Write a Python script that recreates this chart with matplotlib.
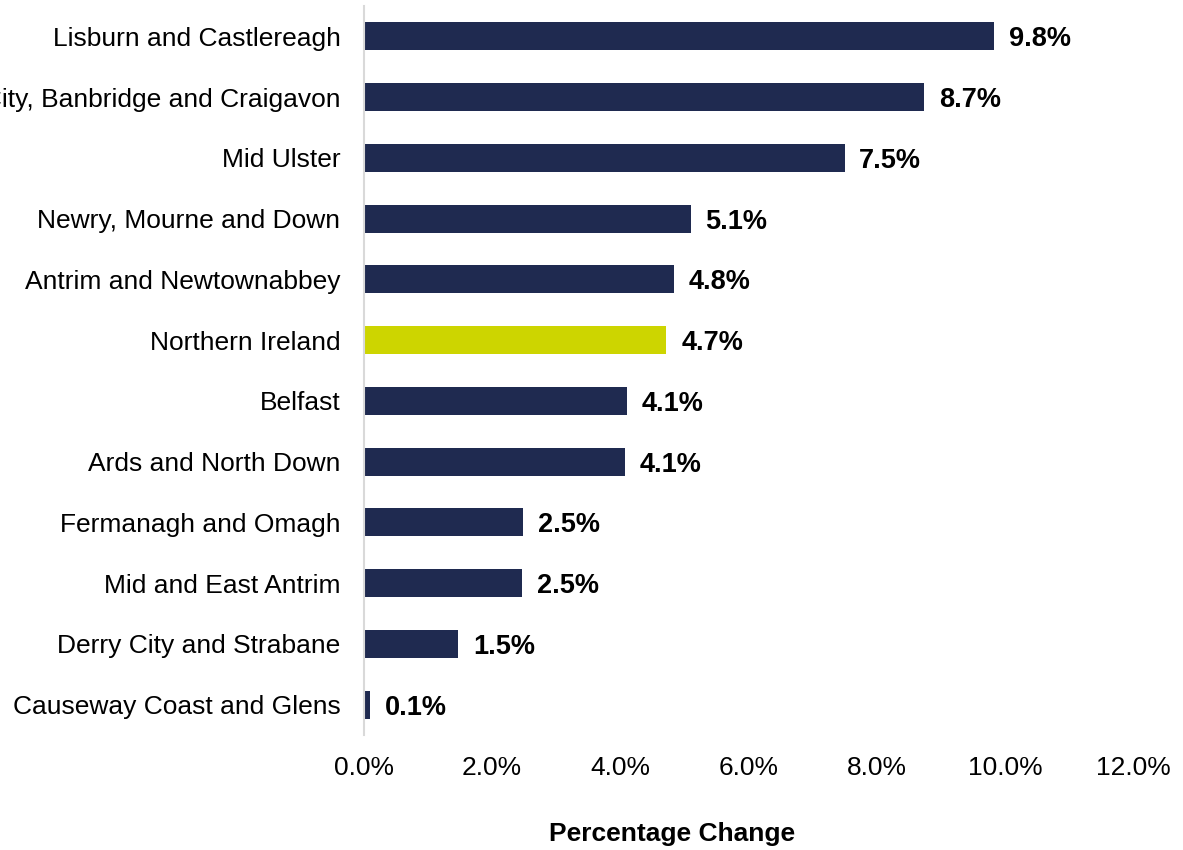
import matplotlib.pyplot as plt
import numpy as np

plt.rcParams['font.family'] = ['Liberation Sans', 'DejaVu Sans']

areas = ['Lisburn and Castlereagh', 'Armagh City, Banbridge and Craigavon', 'Mid Ulster',
         'Newry, Mourne and Down', 'Antrim and Newtownabbey', 'Northern Ireland', 'Belfast',
         'Ards and North Down', 'Fermanagh and Omagh', 'Mid and East Antrim',
         'Derry City and Strabane', 'Causeway Coast and Glens']
change = [9.83, 8.74, 7.5, 5.1, 4.84, 4.72, 4.1, 4.07, 2.48, 2.47, 1.47, 0.1]
labels = ['9.8%', '8.7%', '7.5%', '5.1%', '4.8%', '4.7%', '4.1%', '4.1%', '2.5%', '2.5%', '1.5%', '0.1%']
ticks = [0, 2, 4, 6, 8, 10, 12]

navy = '#1F2A50'
lime = '#CDD500'
colors = [lime if a == 'Northern Ireland' else navy for a in areas]

fig = plt.figure(figsize=(11.83, 8.5), dpi=100)
ax = fig.add_axes([364 / 1183, 1 - 735 / 850, (1133 - 364) / 1183, (735 - 6) / 850])

y = np.arange(len(areas))
ax.barh(y, change, height=0.46, color=colors)
ax.set_ylim(len(areas) - 0.5, -0.5)
ax.set_xlim(0, 12)

ax.set_yticks(y)
ax.set_yticklabels(areas, fontsize=19)
ax.set_xticks(ticks)
ax.set_xticklabels([f'{t:.1f}%' for t in ticks], fontsize=19)
ax.tick_params(axis='y', length=0, pad=17)
ax.tick_params(axis='x', length=0, pad=15)

for i, (v, lab) in enumerate(zip(change, labels)):
    ax.text(v + 0.23, i + 0.05, lab, va='center', ha='left', fontsize=19.5, fontweight='bold')

for s in ['top', 'right', 'bottom']:
    ax.spines[s].set_visible(False)
ax.spines['left'].set_color('#D9D9D9')
ax.spines['left'].set_linewidth(1.5)

ax.set_xlabel('Percentage Change', fontsize=19, fontweight='bold')
ax.xaxis.set_label_coords((672 - 364) / 769, (735 - 822) / 729)

fig.savefig('out.png', dpi=100)
